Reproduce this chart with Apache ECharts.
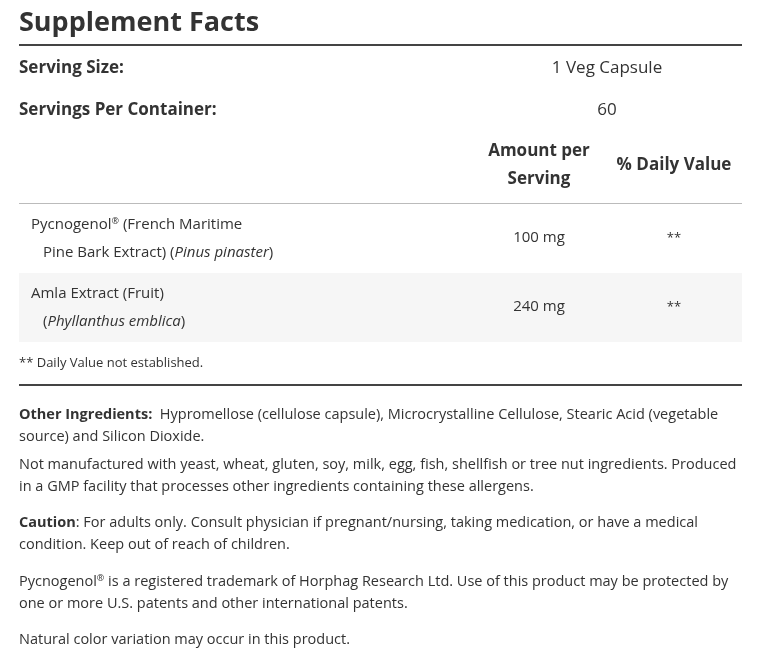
<!DOCTYPE html>
<html><head><meta charset="utf-8">
<script src="https://cdn.jsdelivr.net/npm/echarts@6/dist/echarts.min.js"></script>
<style>html,body{margin:0;padding:0;background:#fff}#c{width:768px;height:660px}</style>
</head><body><div id="c"></div>
<script>
const title = 'Supplement Facts';
const servingLabels = ['Serving Size:', 'Servings Per Container:'];
const servingValues = ['1 Veg Capsule', '60'];
const headerAmount = ['Amount per', 'Serving'];
const headerDV = '% Daily Value';
const ingredientLine1 = ['Pycnogenol{sup|®} (French Maritime', 'Amla Extract (Fruit)'];
const ingredientLine2 = ['Pine Bark Extract) ({i|Pinus pinaster})', '({i|Phyllanthus emblica})'];
const amounts = ['100 mg', '240 mg'];
const dailyValues = ['**', '**'];
const footnote = '** Daily Value not established.';
const paragraphs = [
  ['{b|Other Ingredients:}  Hypromellose (cellulose capsule), Microcrystalline Cellulose, Stearic Acid (vegetable', 'source) and Silicon Dioxide.'],
  ['Not manufactured with yeast, wheat, gluten, soy, milk, egg, fish, shellfish or tree nut ingredients. Produced', 'in a GMP facility that processes other ingredients containing these allergens.'],
  ['{b|Caution}: For adults only. Consult physician if pregnant/nursing, taking medication, or have a medical', 'condition. Keep out of reach of children.'],
  ['Pycnogenol{sup|®} is a registered trademark of Horphag Research Ltd. Use of this product may be protected by', 'one or more U.S. patents and other international patents.'],
  ['Natural color variation may occur in this product.']
];
const paraY = [415, 465, 523, 582, 640];

const F = '"Open Sans", sans-serif', C = '#333';
function mkRich(s){return {b:{fontWeight:'bold',fontSize:s,fontFamily:F,fill:C}, i:{fontStyle:'italic',fontSize:s,fontFamily:F,fill:C}, sup:{fontSize:9,fontFamily:F,fill:C,padding:[0,0,8,0]}};}
function t(x,y,text,size,opts){
  return {type:'text',x:x,y:y,style:Object.assign({text:text,fontSize:size,fontFamily:F,fill:C,verticalAlign:'middle',align:'left',rich:mkRich(size)},opts||{})};
}
const g = [];
g.push(t(19,23,title,27,{fontWeight:'bold'}));
g.push({type:'rect',shape:{x:19,y:44,width:723,height:2},style:{fill:'#444'}});
const sy=[68,110];
servingLabels.forEach((s,i)=>{g.push(t(19,sy[i],s,17,{fontWeight:'bold'}));g.push(t(607,sy[i],servingValues[i],17,{align:'center'}));});
g.push(t(539,151,headerAmount[0],17,{fontWeight:'bold',align:'center'}));
g.push(t(539,179,headerAmount[1],17,{fontWeight:'bold',align:'center'}));
g.push(t(674,165,headerDV,17,{fontWeight:'bold',align:'center'}));
g.push({type:'rect',shape:{x:19,y:203,width:723,height:1},style:{fill:'#bbb'}});
const rowTop=[204,273];
amounts.forEach((a,i)=>{
  const y0=rowTop[i];
  if(i%2===1) g.push({type:'rect',z:-1,shape:{x:19,y:y0,width:723,height:69},style:{fill:'#f6f6f6'}});
  g.push(t(31,y0+21,ingredientLine1[i],15));
  g.push(t(43,y0+49,ingredientLine2[i],15));
  g.push(t(539,y0+34,a,15,{align:'center'}));
  g.push(t(674,y0+34,dailyValues[i],13,{align:'center'}));
});
g.push(t(19,363,footnote,13));
g.push({type:'rect',shape:{x:19,y:384,width:723,height:2},style:{fill:'#444'}});
paragraphs.forEach((p,i)=>p.forEach((l,j)=>g.push(t(19,paraY[i]+j*22,l,14.5))));
const chart = echarts.init(document.getElementById('c'));
chart.setOption({graphic:g});
</script></body></html>
